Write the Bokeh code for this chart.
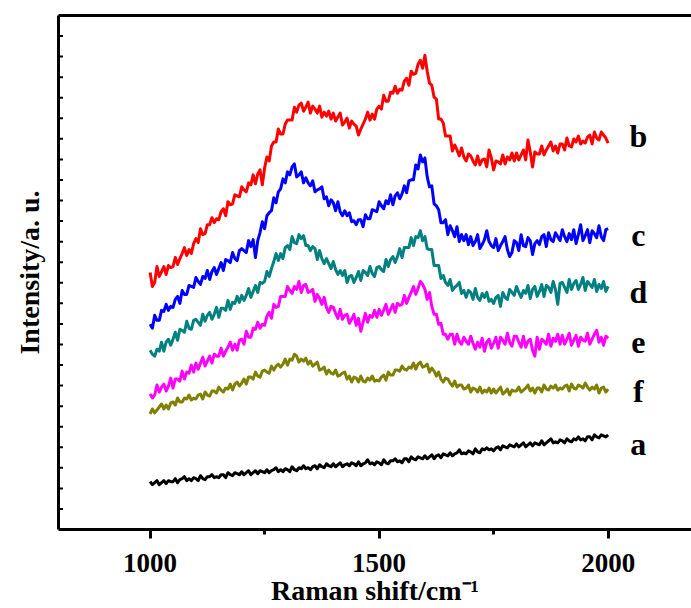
from bokeh.plotting import figure
from bokeh.models import Range1d, FixedTicker, LinearAxis, ColumnDataSource, Label
from bokeh.embed import file_html
from bokeh.resources import INLINE

# Raman shift grid (cm^-1), 5 cm^-1 step
shift = list(range(1000, 2001, 5))

# Intensities (a.u.), one row per 50 cm^-1
curve_b = [
    258, 244, 248, 264, 254, 259, 264, 256, 265, 263,
    264, 273, 266, 272, 277, 283, 275, 281, 277, 287,
    292, 288, 302, 296, 297, 306, 306, 313, 308, 312,
    311, 319, 322, 315, 329, 326, 327, 336, 335, 334,
    344, 341, 339, 348, 346, 356, 347, 357, 361, 346,
    363, 374, 370, 385, 389, 389, 402, 397, 397, 407,
    411, 411, 411, 424, 419, 426, 428, 420, 424, 429,
    418, 425, 422, 418, 425, 414, 419, 415, 420, 412,
    418, 410, 414, 418, 406, 409, 413, 403, 410, 407,
    405, 396, 402, 407, 412, 419, 411, 417, 412, 422,
    425, 422, 436, 430, 430, 439, 438, 445, 438, 442,
    441, 450, 453, 446, 460, 457, 458, 467, 471, 463,
    476, 460, 448, 446, 434, 432, 412, 412, 408, 395,
    395, 395, 380, 386, 381, 375, 383, 374, 370, 377,
    375, 370, 366, 375, 366, 371, 372, 364, 381, 373,
    361, 370, 369, 367, 376, 367, 374, 371, 378, 370,
    378, 371, 376, 381, 371, 391, 379, 364, 379, 377,
    377, 385, 376, 381, 385, 389, 380, 385, 378, 387,
    387, 381, 393, 385, 384, 392, 389, 395, 387, 390,
    388, 394, 396, 387, 399, 393, 391, 399, 396, 393,
    388,
]
curve_c = [
    206, 202, 215, 210, 210, 220, 219, 226, 220, 224,
    223, 231, 234, 227, 240, 236, 236, 245, 244, 243,
    253, 249, 246, 254, 252, 260, 251, 259, 263, 256,
    262, 268, 260, 271, 270, 268, 278, 272, 270, 280,
    282, 280, 278, 290, 284, 291, 273, 290, 298, 309,
    302, 315, 318, 320, 333, 328, 339, 342, 352, 348,
    359, 356, 364, 367, 354, 356, 359, 348, 353, 348,
    345, 350, 339, 341, 342, 344, 332, 334, 325, 331,
    328, 320, 329, 319, 315, 320, 315, 318, 309, 310,
    306, 311, 311, 304, 316, 312, 312, 321, 320, 319,
    329, 325, 322, 330, 327, 336, 326, 335, 338, 332,
    337, 345, 338, 350, 351, 351, 366, 362, 376, 369,
    373, 354, 344, 345, 327, 325, 321, 308, 308, 311,
    296, 305, 300, 294, 304, 289, 296, 290, 296, 286,
    294, 285, 289, 296, 282, 286, 291, 300, 289, 285,
    283, 292, 280, 285, 289, 294, 281, 274, 278, 290,
    288, 280, 296, 285, 284, 293, 290, 276, 287, 290,
    286, 294, 296, 284, 298, 291, 289, 298, 294, 290,
    301, 294, 289, 297, 291, 301, 287, 296, 306, 290,
    295, 301, 288, 300, 297, 293, 305, 294, 290, 301,
    302,
]
curve_d = [
    180, 176, 174, 181, 179, 188, 179, 188, 191, 185,
    191, 198, 190, 201, 200, 198, 209, 202, 201, 210,
    211, 208, 205, 216, 209, 215, 218, 211, 216, 223,
    213, 222, 222, 220, 230, 221, 228, 227, 234, 228,
    235, 230, 235, 242, 233, 239, 245, 238, 248, 247,
    249, 259, 254, 262, 269, 277, 270, 277, 272, 283,
    285, 281, 294, 288, 287, 296, 292, 295, 285, 285,
    280, 284, 282, 271, 280, 272, 267, 272, 267, 262,
    269, 261, 256, 260, 255, 260, 248, 254, 255, 248,
    253, 259, 250, 260, 258, 255, 264, 257, 254, 263,
    264, 261, 259, 271, 264, 271, 274, 268, 274, 282,
    273, 283, 283, 283, 293, 285, 294, 293, 300, 290,
    294, 282, 281, 281, 265, 265, 265, 252, 255, 248,
    245, 251, 240, 243, 245, 248, 237, 240, 233, 240,
    238, 231, 242, 233, 230, 237, 233, 238, 229, 231,
    227, 233, 235, 224, 238, 233, 231, 241, 238, 235,
    244, 238, 233, 240, 237, 245, 232, 241, 244, 234,
    239, 246, 234, 245, 243, 238, 249, 241, 226, 247,
    248, 243, 238, 251, 241, 247, 250, 241, 246, 253,
    240, 249, 246, 243, 251, 239, 246, 242, 249, 239,
    244,
]
curve_e = [
    136, 132, 135, 145, 138, 143, 146, 139, 144, 152,
    142, 151, 151, 149, 159, 151, 158, 157, 165, 158,
    167, 161, 167, 173, 164, 169, 174, 167, 176, 174,
    174, 182, 174, 179, 183, 188, 180, 186, 180, 190,
    191, 186, 199, 193, 193, 202, 201, 208, 202, 206,
    205, 214, 218, 212, 226, 223, 224, 234, 234, 234,
    244, 240, 237, 244, 241, 249, 238, 245, 246, 238,
    239, 241, 229, 236, 232, 226, 233, 223, 218, 224,
    223, 217, 212, 221, 211, 215, 216, 207, 211, 216,
    205, 212, 199, 208, 217, 208, 215, 213, 220, 213,
    221, 215, 220, 226, 216, 221, 226, 218, 227, 225,
    226, 235, 227, 233, 238, 244, 236, 242, 249, 246,
    241, 231, 238, 224, 216, 216, 206, 207, 196, 196,
    191, 196, 196, 186, 196, 189, 186, 193, 189, 186,
    194, 187, 181, 188, 183, 192, 179, 188, 191, 182,
    187, 193, 182, 193, 190, 186, 197, 188, 184, 194,
    194, 188, 183, 194, 183, 189, 191, 180, 174, 193,
    181, 191, 189, 186, 196, 184, 192, 189, 196, 186,
    195, 186, 191, 197, 185, 190, 195, 184, 193, 190,
    189, 197, 186, 191, 196, 200, 188, 193, 185, 194,
    192,
]
curve_f = [
    116, 121, 117, 120, 123, 126, 121, 125, 121, 127,
    128, 125, 132, 128, 128, 132, 131, 135, 130, 132,
    131, 135, 136, 131, 138, 135, 134, 139, 139, 137,
    143, 140, 138, 142, 141, 146, 140, 146, 148, 144,
    147, 151, 146, 153, 153, 151, 158, 154, 153, 159,
    160, 158, 157, 164, 160, 164, 166, 163, 166, 171,
    165, 171, 170, 176, 174, 168, 171, 169, 172, 166,
    169, 164, 166, 168, 160, 161, 163, 156, 160, 157,
    156, 160, 154, 155, 157, 158, 151, 154, 148, 153,
    152, 148, 154, 149, 148, 152, 150, 154, 149, 150,
    149, 153, 155, 150, 158, 155, 155, 160, 160, 159,
    164, 161, 160, 163, 162, 167, 161, 166, 168, 163,
    164, 166, 158, 162, 159, 154, 158, 151, 148, 152,
    151, 147, 144, 149, 143, 145, 145, 141, 142, 145,
    138, 142, 141, 138, 143, 137, 140, 138, 142, 137,
    141, 137, 140, 143, 136, 138, 141, 135, 140, 139,
    139, 143, 138, 140, 142, 145, 139, 142, 137, 142,
    142, 138, 145, 141, 140, 144, 142, 145, 140, 142,
    141, 144, 145, 139, 146, 142, 141, 145, 144, 142,
    147, 143, 140, 143, 141, 145, 137, 142, 143, 138,
    141,
]
curve_a = [
    48, 45, 47, 49, 45, 47, 49, 46, 49, 48,
    48, 51, 47, 50, 51, 53, 49, 51, 49, 52,
    51, 49, 54, 51, 50, 53, 53, 55, 52, 53,
    52, 55, 55, 52, 57, 55, 54, 57, 56, 55,
    58, 55, 57, 59, 55, 57, 59, 56, 59, 58,
    57, 60, 57, 59, 60, 62, 58, 60, 58, 61,
    60, 58, 63, 60, 59, 62, 61, 64, 61, 62,
    60, 63, 64, 61, 65, 63, 62, 66, 64, 63,
    66, 63, 65, 67, 63, 65, 66, 64, 67, 66,
    64, 68, 64, 66, 67, 70, 66, 67, 65, 68,
    67, 65, 70, 67, 66, 69, 69, 71, 68, 69,
    67, 71, 71, 68, 73, 71, 70, 73, 72, 71,
    74, 71, 73, 75, 71, 74, 75, 72, 76, 75,
    74, 77, 74, 76, 77, 80, 76, 77, 76, 79,
    78, 76, 81, 78, 77, 81, 80, 82, 80, 81,
    79, 82, 83, 80, 84, 83, 82, 85, 84, 83,
    86, 83, 85, 87, 83, 85, 87, 84, 87, 86,
    85, 89, 85, 87, 89, 91, 87, 88, 87, 90,
    89, 87, 91, 89, 88, 91, 90, 93, 90, 91,
    89, 93, 93, 90, 95, 93, 92, 95, 94, 93,
    95,
]

series_names = ["b", "c", "d", "e", "f", "a"]
series_values = [curve_b, curve_c, curve_d, curve_e, curve_f, curve_a]
series_colors = ["#FF0000", "#0000FF", "#008080", "#FF00FF", "#808000", "#000000"]
assert all(len(v) == len(shift) for v in series_values)
# curve label anchors (x in cm^-1, baseline y in a.u.)
label_x = 2066
label_y = [395, 296, 238, 188, 139, 86]

x_ticks = [1000, 1500, 2000]
x_minor = [1250, 1750]
x_tick_labels = {1000: "1000", 1500: "1500", 2000: "2000"}

Y_MAX = 516
FONT = "Liberation Serif"

p = figure(width=691, height=608, output_backend="svg", toolbar_location=None,
           x_range=Range1d(800, 2182), y_range=Range1d(0, Y_MAX),
           min_border_left=58, min_border_right=0, min_border_top=15,
           min_border_bottom=77, background_fill_color="white",
           border_fill_color="white")
p.outline_line_color = None
p.xgrid.visible = False
p.ygrid.visible = False

for name, vals, col in zip(series_names, series_values, series_colors):
    src = ColumnDataSource(dict(x=shift, y=vals))
    p.line("x", "y", source=src, line_color=col, line_width=3, line_join="round")

# bottom axis
xa = p.xaxis[0]
xa.ticker = FixedTicker(ticks=x_ticks, minor_ticks=x_minor)
xa.major_label_overrides = x_tick_labels
xa.axis_line_width = 3
xa.axis_line_color = "black"
xa.major_tick_in = 0
xa.major_tick_out = 9
xa.minor_tick_in = 0
xa.minor_tick_out = 5
xa.major_tick_line_width = 3
xa.minor_tick_line_width = 3
xa.major_tick_line_color = "black"
xa.minor_tick_line_color = "black"
xa.major_label_text_font = FONT
xa.major_label_text_font_style = "bold"
xa.major_label_text_font_size = "27px"
xa.major_label_text_color = "black"
xa.major_label_standoff = 15
xa.axis_label = "Raman shift/cm\u207b\u00b9"
xa.axis_label_text_font = FONT
xa.axis_label_text_font_style = "bold"
xa.axis_label_text_font_size = "28px"
xa.axis_label_text_color = "black"
xa.axis_label_standoff = 0

# left axis (ticks drawn separately as short inward dashes)
ya = p.yaxis[0]
ya.ticker = FixedTicker(ticks=[])
ya.axis_line_width = 3
ya.axis_line_color = "black"
ya.major_tick_in = 0
ya.major_tick_out = 0
ya.minor_tick_in = 0
ya.minor_tick_out = 0
ya.major_label_standoff = 0
ya.axis_label = "Intensity/a. u."
ya.axis_label_text_font = FONT
ya.axis_label_text_font_style = "bold"
ya.axis_label_text_font_size = "28px"
ya.axis_label_text_color = "black"
ya.axis_label_standoff = 14

y_tick_pos = [Y_MAX * k / 25 for k in range(1, 25)]
p.scatter(x=[800] * len(y_tick_pos), y=y_tick_pos, marker="dash", size=9,
          line_color="black", line_width=2)

# top border line
top = LinearAxis(ticker=FixedTicker(ticks=[]), axis_line_width=3, axis_line_color="black",
                 major_tick_in=0, major_tick_out=0, minor_tick_in=0, minor_tick_out=0,
                 major_label_standoff=0)
p.add_layout(top, "above")

for name, ly in zip(series_names, label_y):
    p.add_layout(Label(x=label_x, y=ly, text=name, text_font=FONT,
                       text_font_style="bold", text_font_size="32px",
                       text_align="center", text_baseline="alphabetic",
                       text_color="black"))

open("out.html", "w").write(file_html(p, INLINE))
